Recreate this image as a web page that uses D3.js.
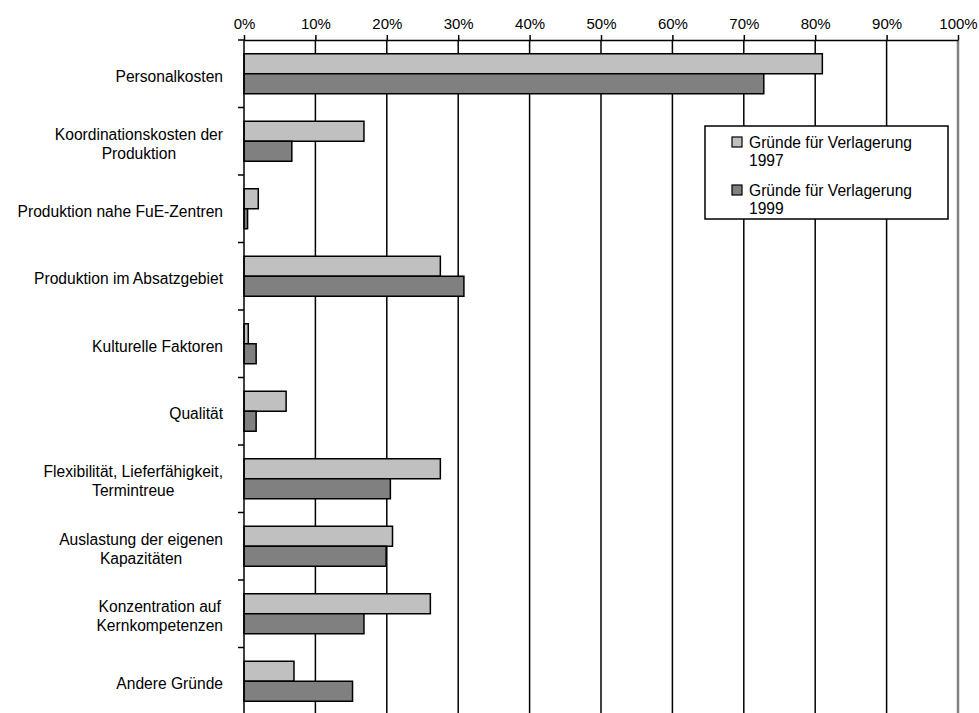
<!DOCTYPE html>
<html>
<head>
<meta charset="utf-8">
<script src="https://cdn.jsdelivr.net/npm/d3@7"></script>
<style>
  html, body { margin: 0; padding: 0; background: #fff; }
  svg { display: block; font-family: "Liberation Sans", Arial, sans-serif; }
</style>
</head>
<body>
<svg id="chart" width="979" height="713"></svg>
<script>
// ---- data ----
const categories = [
  ["Personalkosten"],
  ["Koordinationskosten der", "Produktion"],
  ["Produktion nahe FuE-Zentren"],
  ["Produktion im Absatzgebiet"],
  ["Kulturelle Faktoren"],
  ["Qualität"],
  ["Flexibilität, Lieferfähigkeit,", "Termintreue"],
  ["Auslastung der eigenen", "Kapazitäten"],
  ["Konzentration auf", "Kernkompetenzen"],
  ["Andere Gründe"]
];
const seriesNames = ["Gründe für Verlagerung 1997", "Gründe für Verlagerung 1999"];
const legendLines = [["Gründe für Verlagerung", "1997"], ["Gründe für Verlagerung", "1999"]];
const values1997 = [0.81, 0.168, 0.020, 0.275, 0.006, 0.059, 0.275, 0.208, 0.261, 0.070];
const values1999 = [0.728, 0.067, 0.005, 0.308, 0.017, 0.017, 0.205, 0.199, 0.168, 0.152];
const xTicks = [0, 0.1, 0.2, 0.3, 0.4, 0.5, 0.6, 0.7, 0.8, 0.9, 1.0];
const colors = ["#c0c0c0", "#808080"];

(function () {
// ---- layout ----
const svg = d3.select("#chart");
const pLeft = 244, pRight = 958, pTop = 40, pBottom = 715;
const fontSize = 15.6;

const x = d3.scaleLinear().domain([0, 1]).range([pLeft, pRight]);
const catKeys = categories.map((c, i) => i);
const y = d3.scaleBand().domain(catKeys).range([pTop, pBottom]).paddingInner(0).paddingOuter(0);
const bw = y.bandwidth();
const ySub = d3.scaleBand().domain([0, 1]).range([(bw - 40) / 2, (bw + 40) / 2]);

// gridlines
svg.append("g").selectAll("line")
  .data(xTicks.filter(t => t > 0 && t < 1))
  .join("line")
  .attr("x1", d => x(d)).attr("x2", d => x(d))
  .attr("y1", pTop).attr("y2", 713)
  .attr("stroke", "#000").attr("stroke-width", 1.5);

// right border (gray)
svg.append("line")
  .attr("x1", x(1)).attr("x2", x(1)).attr("y1", pTop).attr("y2", 713)
  .attr("stroke", "#808080").attr("stroke-width", 2.5);

// bars
const series = [values1997, values1999];
series.forEach((vals, si) => {
  svg.append("g").selectAll("rect")
    .data(vals)
    .join("rect")
    .attr("x", x(0))
    .attr("y", (d, i) => y(i) + ySub(si))
    .attr("width", d => x(d) - x(0))
    .attr("height", ySub.bandwidth())
    .attr("fill", colors[si])
    .attr("stroke", "#000").attr("stroke-width", 1.5);
});

// top axis
const xAxis = d3.axisTop(x).tickValues(xTicks).tickFormat(d3.format(".0%")).tickSize(5).tickSizeOuter(0);
const gx = svg.append("g").attr("transform", `translate(0,${pTop})`).call(xAxis);
gx.select(".domain").attr("stroke", "#000").attr("stroke-width", 1.5);
gx.selectAll(".tick line").attr("stroke", "#000").attr("stroke-width", 1.5);
gx.selectAll(".tick text")
  .attr("font-size", 15).attr("fill", "#000")
  .attr("font-family", "Liberation Sans, Arial, sans-serif")
  .attr("y", -11.5).attr("dy", 0);

// left axis line with ticks at band boundaries
svg.append("line")
  .attr("x1", pLeft).attr("x2", pLeft).attr("y1", pTop).attr("y2", 713)
  .attr("stroke", "#000").attr("stroke-width", 1.5);
const boundaries = catKeys.map(i => y(i));
svg.append("g").selectAll("line")
  .data(boundaries)
  .join("line")
  .attr("x1", pLeft - 6).attr("x2", pLeft)
  .attr("y1", d => d).attr("y2", d => d)
  .attr("stroke", "#000").attr("stroke-width", 1.5);

// category labels: right-aligned blocks, lines centered within block
const labelRight = 223;
const lineH = 19;
categories.forEach((lines, i) => {
  const c = y(i) + bw / 2;
  const g = svg.append("g");
  const texts = lines.map((ln, j) => g.append("text")
    .attr("font-size", fontSize).attr("fill", "#000")
    .attr("y", c + 8 + (j - (lines.length - 1) / 2) * lineH)
    .text(ln));
  const widths = texts.map(t => t.node().getComputedTextLength());
  const maxW = Math.max(...widths);
  const cx = labelRight - maxW / 2;
  texts.forEach(t => t.attr("x", cx).attr("text-anchor", "middle"));
});

// legend
const lg = svg.append("g");
lg.append("rect")
  .attr("x", 705).attr("y", 126).attr("width", 243).attr("height", 93)
  .attr("fill", "#fff").attr("stroke", "#000").attr("stroke-width", 1.5);
legendLines.forEach((lines, i) => {
  const y0 = 137 + i * 48;
  lg.append("rect")
    .attr("x", 732).attr("y", y0).attr("width", 10).attr("height", 10)
    .attr("fill", colors[i]).attr("stroke", "#000").attr("stroke-width", 1.2);
  lines.forEach((ln, j) => {
    lg.append("text")
      .attr("x", 749).attr("y", y0 + 11 + j * 18)
      .attr("font-size", fontSize).attr("fill", "#000")
      .text(ln);
  });
});
})();
</script>
</body>
</html>
